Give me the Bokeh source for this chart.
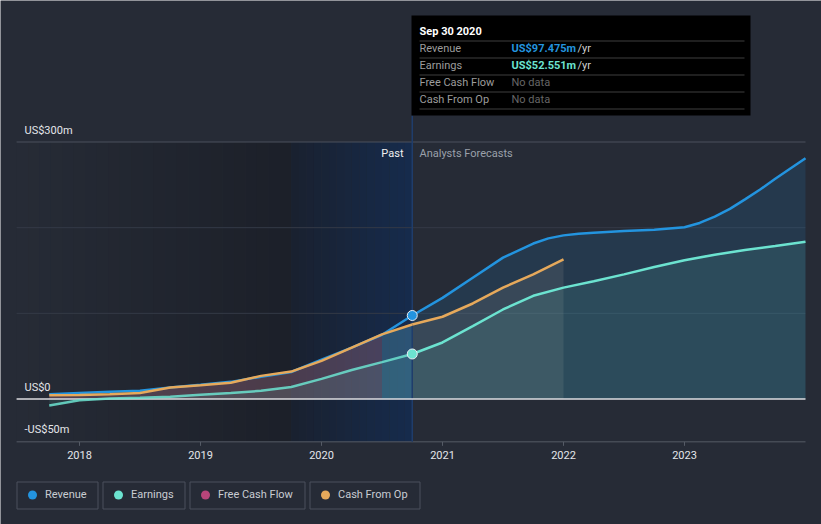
import numpy as np
from bokeh.plotting import figure
from bokeh.models import Range1d
from bokeh.embed import file_html
from bokeh.resources import INLINE
from bokeh.core.properties import value

# ---------------- data ----------------
past_x = [2017.75, 2018.0, 2018.25, 2018.5, 2018.75, 2019.0, 2019.25, 2019.5,
          2019.75, 2020.0, 2020.25, 2020.5, 2020.75]
revenue_past = [5.5, 7.0, 8.5, 9.5, 13.5, 16.5, 20.0, 26.0, 31.5, 46.0, 60.0, 75.0, 97.475]
earnings_past = [-7.5, -1.5, 0.5, 1.5, 2.7, 5.0, 7.0, 9.5, 14.0, 23.5, 33.8, 43.0, 52.551]
cfo_past = [4.5, 4.8, 5.5, 7.0, 13.5, 16.0, 19.0, 27.0, 32.0, 44.5, 60.0, 75.5, 87.0]

rev_fc_x = [2020.75, 2021.0, 2021.25, 2021.5, 2021.75, 2021.875, 2022.0, 2022.125,
            2022.25, 2022.5, 2022.75, 2023.0, 2023.125, 2023.25, 2023.375, 2023.5,
            2023.625, 2023.75, 2023.875, 2024.0]
revenue_fc = [97.475, 118.0, 141.5, 165.0, 181.5, 187.5, 191.0, 193.0, 194.0, 196.0,
              197.5, 200.5, 205.5, 213.0, 222.0, 233.0, 244.5, 257.0, 269.0, 281.0]
earn_fc_x = [2020.75, 2021.0, 2021.25, 2021.5, 2021.75, 2022.0, 2022.25, 2022.5,
             2022.75, 2023.0, 2023.25, 2023.5, 2023.75, 2024.0]
earnings_fc = [52.551, 66.0, 85.0, 104.5, 120.5, 130.0, 137.5, 145.5, 154.0,
               162.0, 168.5, 174.0, 178.5, 183.5]
cfo_fc_x = [2020.75, 2021.0, 2021.25, 2021.5, 2021.75, 2022.0]
cfo_fc = [87.0, 96.0, 111.5, 130.0, 145.5, 163.0]

year_ticks = [2018, 2019, 2020, 2021, 2022, 2023]
year_labels = ["2018", "2019", "2020", "2021", "2022", "2023"]
grid_values = [100, 200]
y_ticks = [300, 0, -50]
y_tick_labels = ["US$300m", "US$0", "-US$50m"]
series_names = ["Revenue", "Earnings", "Free Cash Flow", "Cash From Op"]
series_colors = ["#2394df", "#6ce3d0", "#b8457a", "#e6a95b"]
tooltip_date = "Sep 30 2020"
past_start = 2019.75
now_x = 2020.75
x_start, x_end = 2017.48, 2024.0
y_min, y_max = -50, 300

# ---------------- styling / layout helpers ----------------
BG = "#262b36"
FONT = value("Roboto")
PXM = 257.0 / 300.0  # pixels per US$m
W, H = 821, 524


def dx(page_x):
    return 2018 + (page_x - 79) / 121.0


def dy(page_y):
    return (398.5 - page_y) / PXM


p = figure(width=W, height=H, x_range=Range1d(dx(0), dx(W)),
           y_range=Range1d(dy(H), dy(0)), output_backend="svg", toolbar_location=None,
           min_border=0, x_axis_location=None, y_axis_location=None,
           background_fill_color=BG, border_fill_color=BG, outline_line_color=None)
p.grid.visible = False


def mix(c1, c2, t):
    return "#%02x%02x%02x" % tuple(int(round(a + (b - a) * t)) for a, b in zip(c1, c2))


# background bands (gradient)
n1 = 24
e1 = np.linspace(x_start, past_start, n1 + 1)
p.quad(left=e1[:-1], right=e1[1:], top=y_max, bottom=y_min,
       fill_color=[mix((38, 43, 54), (28, 32, 41), i / (n1 - 1)) for i in range(n1)],
       line_color=None)
n2 = 16
e2 = np.linspace(past_start, now_x, n2 + 1)
p.quad(left=e2[:-1], right=e2[1:], top=y_max, bottom=y_min,
       fill_color=[mix((25, 33, 48), (22, 43, 76), i / (n2 - 1)) for i in range(n2)],
       line_color=None)

# grid lines
p.segment(x0=[x_start] * 2, y0=grid_values, x1=[x_end] * 2, y1=grid_values,
          line_color="#343a46", line_width=1)
p.segment(x0=[x_start], y0=[y_max], x1=[x_end], y1=[y_max], line_color="#4b515c",
          line_width=1)

# fills
n_past = len(past_x)
p.varea(x=past_x[:n_past - 1], y1=0, y2=cfo_past[:n_past - 1], fill_color="#c8869f",
        fill_alpha=0.28)
p.varea(x=past_x[n_past - 2:], y1=0, y2=cfo_past[n_past - 2:], fill_color="#5aa6c8",
        fill_alpha=0.33)
p.varea(x=past_x, y1=0, y2=earnings_past, fill_color=series_colors[1], fill_alpha=0.10)
p.varea(x=rev_fc_x, y1=0, y2=revenue_fc, fill_color=series_colors[0], fill_alpha=0.14)
p.varea(x=cfo_fc_x, y1=0, y2=cfo_fc, fill_color="#a8a29a", fill_alpha=0.15)
p.varea(x=earn_fc_x, y1=0, y2=earnings_fc, fill_color=series_colors[1], fill_alpha=0.11)

# x axis (baseline, ticks, labels)
p.segment(x0=[x_start], y0=[y_min], x1=[x_end], y1=[y_min], line_color="#555b66",
          line_width=1)
p.segment(x0=year_ticks, y0=[y_min] * 6, x1=year_ticks, y1=[y_min - 4 / PXM] * 6,
          line_color="#555b66", line_width=1)
p.text(x=year_ticks, y=[dy(454)] * 6, text=year_labels, text_font=FONT,
       text_font_size="11px", text_color="#e4e6ea", text_align="center",
       text_baseline="middle")

# "now" line
p.segment(x0=[now_x], y0=[y_min], x1=[now_x], y1=[dy(115)], line_color="#1f3d6b",
          line_width=1.5)

# zero line
p.segment(x0=[x_start], y0=[0], x1=[x_end], y1=[0], line_color="#dcdde0", line_width=1.5)

# lines
p.line(past_x, revenue_past, line_color=series_colors[0], line_width=2.5)
p.line(past_x, earnings_past, line_color=series_colors[1], line_width=2.5, line_alpha=0.85)
p.line(past_x, cfo_past, line_color=series_colors[3], line_width=2.5)
p.line(rev_fc_x, revenue_fc, line_color=series_colors[0], line_width=2.5)
p.line(earn_fc_x, earnings_fc, line_color=series_colors[1], line_width=2.5)
p.line(cfo_fc_x, cfo_fc, line_color=series_colors[3], line_width=2.5)

p.scatter([now_x], [revenue_past[-1]], size=10, fill_color=series_colors[0],
          line_color="#e8eef5", line_width=1)
p.scatter([now_x], [earnings_past[-1]], size=10, fill_color=series_colors[1],
          line_color="#e8eef5", line_width=1)

# y labels
p.text(x=[dx(24)] * len(y_ticks), y=[v + 12 / PXM for v in y_ticks], text=y_tick_labels,
       text_font=FONT, text_font_size="11px", text_color="#e4e6ea",
       text_align="left", text_baseline="middle")

# Past / forecasts
p.text(x=[dx(403)], y=[dy(153)], text=["Past"], text_font=FONT, text_font_size="11px",
       text_color="#f0f0f0", text_align="right", text_baseline="middle")
p.text(x=[dx(419)], y=[dy(153)], text=["Analysts Forecasts"], text_font=FONT,
       text_font_size="11px", text_color="#9aa0aa", text_align="left",
       text_baseline="middle")

# tooltip
p.quad(left=dx(411), right=dx(750), top=dy(15), bottom=dy(115), fill_color="#000000",
       line_color=None)
p.text(x=[dx(419)], y=[dy(31)], text=[tooltip_date], text_font=FONT,
       text_font_size="11px", text_font_style="bold", text_color="#ffffff",
       text_align="left", text_baseline="middle")
sep_y = [dy(40.5 + 17 * i) for i in range(5)]
p.segment(x0=[dx(419)] * 5, y0=sep_y, x1=[dx(744)] * 5, y1=sep_y, line_color="#3e3e3e",
          line_width=1)
row_y = [dy(48.3 + 17 * i) for i in range(4)]
p.text(x=[dx(419)] * 4, y=row_y, text=series_names, text_font=FONT,
       text_font_size="11px", text_color="#9c9c9c", text_align="left",
       text_baseline="middle")
vals = ["US$%.3fm" % revenue_past[-1], "US$%.3fm" % earnings_past[-1]]
p.text(x=[dx(511)] * 2, y=row_y[:2], text=vals, text_font=FONT, text_font_size="11px",
       text_font_style="bold", text_color=series_colors[:2], text_align="left",
       text_baseline="middle")
p.text(x=[dx(577)] * 2, y=row_y[:2], text=["/yr", "/yr"], text_font=FONT,
       text_font_size="11px", text_color="#d0d0d0", text_align="left",
       text_baseline="middle")
p.text(x=[dx(511)] * 2, y=row_y[2:], text=["No data", "No data"], text_font=FONT,
       text_font_size="11px", text_color="#666666", text_align="left",
       text_baseline="middle")

# legend (boxed items below the chart)
box_w = [81, 82, 115, 110]
lefts = [16.5 + sum(box_w[:i]) + 5 * i for i in range(4)]
p.quad(left=[dx(l) for l in lefts], right=[dx(l + w) for l, w in zip(lefts, box_w)],
       top=dy(481.5), bottom=dy(508.5), fill_color=None, line_color="#4a505c",
       line_width=1)
p.scatter(x=[dx(l + 15.5) for l in lefts], y=[dy(494.5)] * 4, size=9,
          fill_color=series_colors, line_color=None)
p.text(x=[dx(l + 28) for l in lefts], y=[dy(494.3)] * 4, text=series_names,
       text_font=FONT, text_font_size="11px", text_color="#c9cdd3", text_align="left",
       text_baseline="middle")

open("out.html", "w").write(file_html(p, INLINE))
